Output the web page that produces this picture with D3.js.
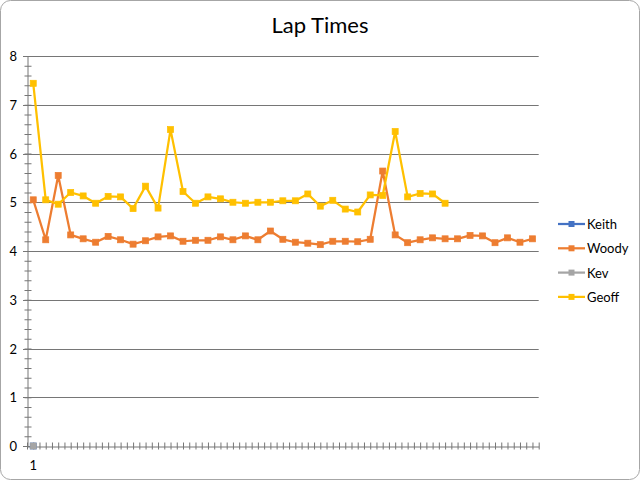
<!DOCTYPE html>
<html><head><meta charset="utf-8">
<script src="https://cdn.jsdelivr.net/npm/d3@7"></script>
<style>html,body{margin:0;padding:0;background:#fff;}svg{display:block;}</style>
</head><body>
<svg id="c" width="640" height="480"></svg>
<script>
const title = "Lap Times";
const categories = [1,2,3,4,5,6,7,8,9,10,11,12,13,14,15,16,17,18,19,20,21,22,23,24,25,26,27,28,29,30,31,32,33,34,35,36,37,38,39,40,41];
const xTickLabels = ["1"];
const yTicks = [0,1,2,3,4,5,6,7,8];
const seriesNames = ["Keith","Woody","Kev","Geoff"];
const seriesColors = ["#4472C4","#ED7D31","#A5A5A5","#FFC000"];
const keith = [0];
const woody = [5.05,4.23,5.55,4.33,4.25,4.18,4.30,4.23,4.14,4.21,4.29,4.31,4.20,4.22,4.22,4.29,4.23,4.31,4.23,4.41,4.24,4.18,4.16,4.13,4.20,4.20,4.19,4.24,5.64,4.33,4.17,4.23,4.27,4.25,4.25,4.32,4.31,4.17,4.27,4.18,4.25];
const kev = [0];
const geoff = [7.44,5.05,4.96,5.20,5.13,4.98,5.12,5.11,4.87,5.33,4.88,6.49,5.22,4.98,5.11,5.07,5.00,4.98,5.00,5.00,5.03,5.03,5.17,4.92,5.04,4.86,4.80,5.15,5.14,6.45,5.11,5.18,5.17,4.98];
const seriesData = [keith, woody, kev, geoff];

const font = "Lato, 'Open Sans', 'Liberation Sans', sans-serif";
const svg = d3.select("#c");
svg.append("rect").attr("x",0.5).attr("y",0.5).attr("width",639).attr("height",479)
  .attr("rx",10).attr("ry",10).attr("fill","#fff").attr("stroke","#a6a6a6").attr("stroke-width",1);

svg.append("text").attr("x",320).attr("y",33).attr("text-anchor","middle")
  .attr("font-family",font).attr("font-size",22).attr("fill","#000").text(title);

const L = 27, R = 538.7, T = 56, B = 446;
const x = d3.scaleBand().domain(categories).range([L,R]).padding(0);
const xi = d3.scaleLinear().domain([0,categories.length]).range([L,R]);
const y = d3.scaleLinear().domain([0,8]).range([B,T]);

// gridlines
svg.append("g").selectAll("line").data(yTicks.filter(d=>d>0)).join("line")
  .attr("x1",L-4).attr("x2",R).attr("y1",d=>Math.round(y(d))+0.5).attr("y2",d=>Math.round(y(d))+0.5)
  .attr("stroke","#767676").attr("stroke-width",1);

// y axis
const yMinor = d3.range(0,40.5).map(i=>i/5);
const ya = svg.append("g").attr("transform",`translate(${L+0.5},0)`)
  .call(d3.axisLeft(y).tickValues(yMinor).tickSize(0).tickFormat(""));
ya.select(".domain").attr("stroke","#767676");
ya.selectAll(".tick line").attr("x1",-3).attr("x2",4).attr("stroke","#767676");
svg.append("g").selectAll("line").data(yTicks).join("line")
  .attr("x1",L-4).attr("x2",L).attr("y1",d=>Math.round(y(d))+0.5).attr("y2",d=>Math.round(y(d))+0.5)
  .attr("stroke","#767676");
svg.append("g").selectAll("text").data(yTicks).join("text")
  .attr("x",17).attr("y",d=>y(d)+5).attr("text-anchor","end")
  .attr("font-family",font).attr("font-size",13).attr("fill","#000").text(d=>d);

// x axis
const xa = svg.append("g").attr("transform",`translate(0,${B+0.5})`)
  .call(d3.axisBottom(xi).tickValues(d3.range(0,categories.length*2+1).map(i=>i/2)).tickSize(0).tickFormat(""));
xa.select(".domain").attr("stroke","#767676");
xa.selectAll(".tick line").attr("y1",-4).attr("y2",3).attr("stroke","#767676");
svg.append("g").selectAll("text").data(xTickLabels).join("text")
  .attr("x",(d,i)=>x(categories[i])+x.bandwidth()/2).attr("y",470).attr("text-anchor","middle")
  .attr("font-family",font).attr("font-size",13).attr("fill","#000").text(d=>d);

// series
const cx = i => x(categories[i]) + x.bandwidth()/2;
const line = d3.line().x((d,i)=>cx(i)).y(d=>y(d));
seriesData.forEach((data,s)=>{
  const g = svg.append("g");
  if (data.length>1) g.append("path").attr("d",line(data)).attr("fill","none")
    .attr("stroke",seriesColors[s]).attr("stroke-width",2.25).attr("stroke-linejoin","round");
  g.selectAll("rect").data(data).join("rect")
    .attr("x",(d,i)=>cx(i)-3).attr("y",d=>y(d)-3).attr("width",6).attr("height",6)
    .attr("fill",seriesColors[s]).attr("stroke",seriesColors[s]).attr("stroke-width",0.75);
});

// legend
const lg = svg.append("g").selectAll("g").data(seriesNames).join("g")
  .attr("transform",(d,i)=>`translate(0,${224+i*24.3})`);
lg.append("line").attr("x1",558).attr("x2",585).attr("y1",0).attr("y2",0)
  .attr("stroke",(d,i)=>seriesColors[i]).attr("stroke-width",2.25);
lg.append("rect").attr("x",568.5).attr("y",-3).attr("width",6).attr("height",6)
  .attr("fill",(d,i)=>seriesColors[i]);
lg.append("text").attr("x",587).attr("y",5).attr("font-family",font).attr("font-size",13)
  .attr("fill","#000").text(d=>d);
</script>
</body></html>
